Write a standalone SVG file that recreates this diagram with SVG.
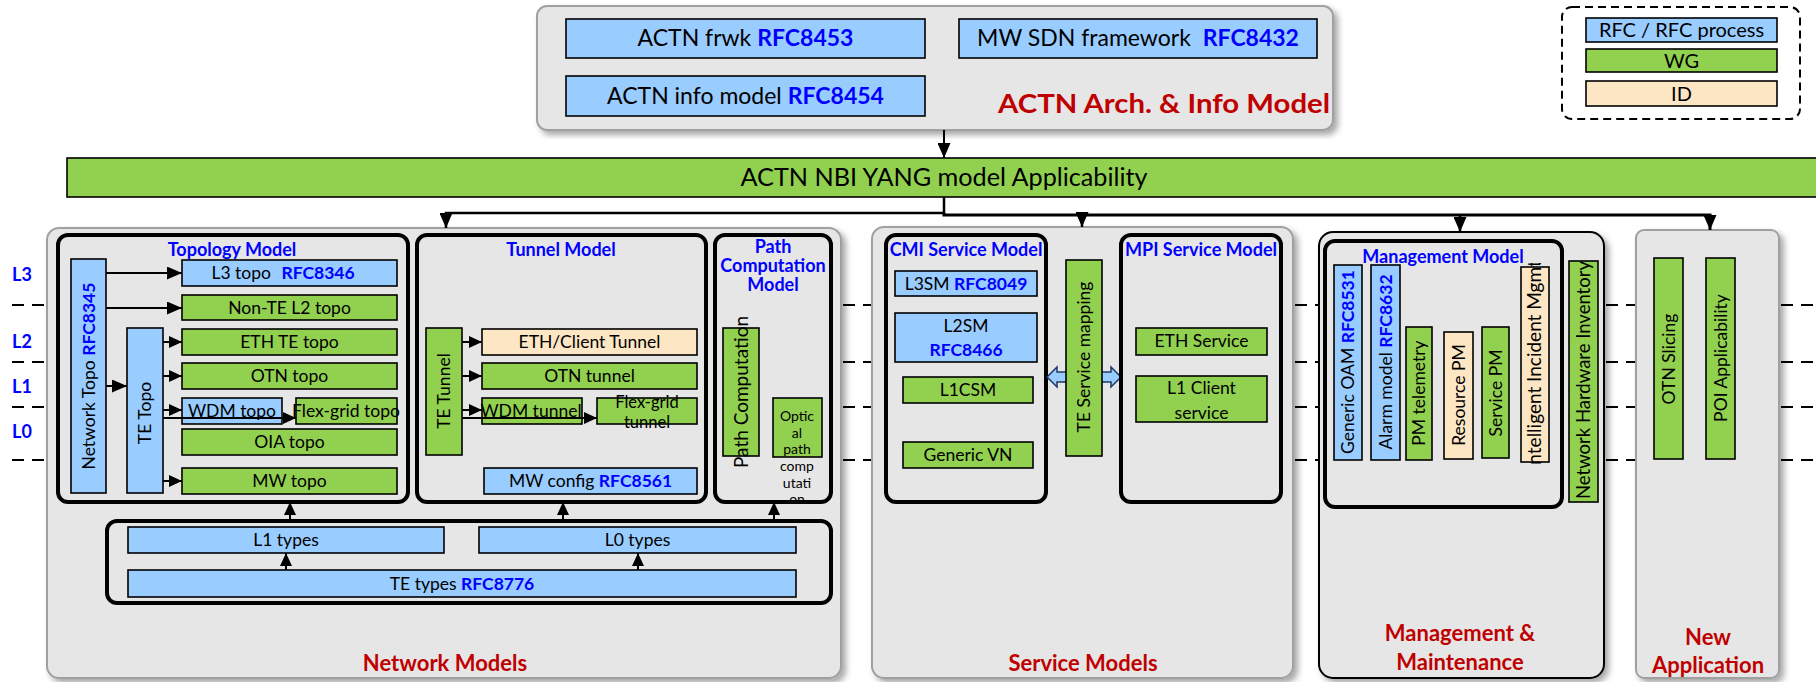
<svg xmlns="http://www.w3.org/2000/svg" width="1816" height="682" viewBox="0 0 1816 682">
<defs>
<filter id="sh" x="-5%" y="-5%" width="112%" height="112%">
<feDropShadow dx="4" dy="4" stdDeviation="3" flood-color="#000" flood-opacity="0.35"/>
</filter>
<marker id="ah" markerUnits="userSpaceOnUse" markerWidth="15" markerHeight="13" refX="15" refY="6.5" orient="auto">
<path d="M0,0 L15,6.5 L0,13 z" fill="#000"/>
</marker>
<marker id="as" markerUnits="userSpaceOnUse" markerWidth="13" markerHeight="12" refX="13" refY="6" orient="auto">
<path d="M0,0 L13,6 L0,12 z" fill="#000"/>
</marker>
<clipPath id="clipIIM"><rect x="1518" y="263" width="34" height="202"/></clipPath>
</defs>
<style>
text{font-family:Lato,"Liberation Sans",sans-serif;font-size:17.5px;fill:#000}
.gb{fill:#e6e6e6;stroke:#a0a0a0;stroke-width:2;filter:url(#sh)}
.ct{fill:none;stroke:#000;stroke-width:4}
.b{fill:#99ccff;stroke:#000;stroke-width:1.6}
.g{fill:#92d050;stroke:#000;stroke-width:1.6}
.i{fill:#fde6c3;stroke:#000;stroke-width:1.6}
.r{font-weight:bold;fill:#0000ff}
.h{font-weight:bold;fill:#0000ff;font-size:18px}
.red{font-weight:bold;fill:#c00000;font-size:22px}
.m{text-anchor:middle}
.ln{stroke:#000;stroke-width:2;fill:none}
.dl{stroke:#000;stroke-width:2;stroke-dasharray:12 8}
</style>

<!-- layer separators -->
<g id="layers">
<g class="dl">
<line x1="12" y1="305" x2="47" y2="305"/><line x1="12" y1="362" x2="47" y2="362"/><line x1="12" y1="407" x2="47" y2="407"/><line x1="12" y1="460" x2="47" y2="460"/>
<line x1="843" y1="305" x2="872" y2="305"/><line x1="843" y1="362" x2="872" y2="362"/><line x1="843" y1="407" x2="872" y2="407"/><line x1="843" y1="460" x2="872" y2="460"/>
<line x1="1295" y1="305" x2="1319" y2="305"/><line x1="1295" y1="362" x2="1319" y2="362"/><line x1="1295" y1="407" x2="1319" y2="407"/><line x1="1295" y1="460" x2="1319" y2="460"/>
<line x1="1606" y1="305" x2="1636" y2="305"/><line x1="1606" y1="362" x2="1636" y2="362"/><line x1="1606" y1="407" x2="1636" y2="407"/><line x1="1606" y1="460" x2="1636" y2="460"/>
<line x1="1781" y1="305" x2="1816" y2="305"/><line x1="1781" y1="362" x2="1816" y2="362"/><line x1="1781" y1="407" x2="1816" y2="407"/><line x1="1781" y1="460" x2="1816" y2="460"/>
</g>
<text class="h m" x="22" y="281">L3</text>
<text class="h m" x="22" y="348">L2</text>
<text class="h m" x="22" y="393">L1</text>
<text class="h m" x="22" y="438">L0</text>
</g>

<!-- top architecture box -->
<g id="arch">
<rect class="gb" x="537" y="6" width="796" height="124" rx="10"/>
<g id="actn-frwk"><rect class="b" x="566" y="19" width="359" height="39"/>
<text class="m" x="745.5" y="46" style="font-size:23px">ACTN frwk <tspan class="r">RFC8453</tspan></text></g>
<g id="actn-info"><rect class="b" x="566" y="76" width="359" height="40"/>
<text class="m" x="745.5" y="104" style="font-size:23px">ACTN info model <tspan class="r">RFC8454</tspan></text></g>
<g id="mw-sdn"><rect class="b" x="959" y="19" width="358" height="39"/>
<text class="m" x="1138" y="46" style="font-size:23px">MW SDN framework <tspan class="r" dx="6">RFC8432</tspan></text></g>
<text class="red" x="998" y="113" style="font-size:27px" textLength="332" lengthAdjust="spacingAndGlyphs">ACTN Arch. &amp; Info Model</text>
</g>

<!-- legend -->
<g id="legend">
<rect x="1562" y="7" width="238" height="112" rx="10" fill="#fff" stroke="#000" stroke-width="2" stroke-dasharray="8 5"/>
<rect class="b" x="1586" y="18" width="191" height="24"/>
<text class="m" x="1681.5" y="37" style="font-size:20px">RFC / RFC process</text>
<rect class="g" x="1586" y="49" width="191" height="23"/>
<text class="m" x="1681.5" y="68" style="font-size:20px">WG</text>
<rect class="i" x="1586" y="81" width="191" height="25"/>
<text class="m" x="1681.5" y="101" style="font-size:20px">ID</text>
</g>

<!-- NBI bar -->
<g id="nbi">
<rect x="67" y="158" width="1770" height="39" fill="#92d050" stroke="#000" stroke-width="1.6"/>
<text class="m" x="944" y="186" style="font-size:25px" textLength="407" lengthAdjust="spacingAndGlyphs">ACTN NBI YANG model Applicability</text>
</g>

<!-- Network Models -->
<g id="network-models">
<rect class="gb" x="47" y="228" width="794" height="450" rx="12"/>
<text class="red m" x="445" y="671">Network Models</text>
</g>
<g id="topology-model">
<rect class="ct" x="58" y="235" width="350" height="267" rx="10"/>
<text class="h m" x="232" y="256">Topology Model</text>
</g>
<g id="network-topo"><rect class="b" x="71" y="259" width="35" height="234"/>
<text class="m" x="88.5" y="382" transform="rotate(-90 88.5 376)">Network Topo <tspan class="r">RFC8345</tspan></text></g>
<g id="te-topo"><rect class="b" x="127" y="328" width="36" height="165"/>
<text class="m" x="145" y="419" transform="rotate(-90 145 413)">TE Topo</text></g>
<g id="l3-topo"><rect class="b" x="182" y="260" width="215" height="26"/>
<text class="m" x="283" y="279">L3 topo <tspan class="r" dx="6">RFC8346</tspan></text></g>
<g id="non-te-l2-topo"><rect class="g" x="182" y="295" width="215" height="25"/>
<text class="m" x="289.5" y="314">Non-TE L2 topo</text></g>
<g id="eth-te-topo"><rect class="g" x="182" y="329" width="215" height="26"/>
<text class="m" x="289.5" y="348">ETH TE topo</text></g>
<g id="otn-topo"><rect class="g" x="182" y="363" width="215" height="26"/>
<text class="m" x="289.5" y="382">OTN topo</text></g>
<g id="wdm-topo"><rect class="b" x="182" y="398" width="100" height="26"/>
<text class="m" x="232" y="417">WDM topo</text></g>
<g id="flexgrid-topo"><rect class="g" x="296" y="398" width="101" height="26"/>
<text class="m" x="346" y="417">Flex-grid topo</text></g>
<g id="oia-topo"><rect class="g" x="182" y="429" width="215" height="26"/>
<text class="m" x="289.5" y="448">OIA topo</text></g>
<g id="mw-topo"><rect class="g" x="182" y="468" width="215" height="26"/>
<text class="m" x="289.5" y="487">MW topo</text></g>

<g id="tunnel-model">
<rect class="ct" x="417" y="235" width="289" height="267" rx="10"/>
<text class="h m" x="561" y="256">Tunnel Model</text>
</g>
<g id="te-tunnel"><rect class="g" x="426" y="328" width="36" height="127"/>
<text class="m" x="444" y="397" transform="rotate(-90 444 391)">TE Tunnel</text></g>
<g id="eth-client-tunnel"><rect class="i" x="482" y="329" width="215" height="26"/>
<text class="m" x="589.5" y="348">ETH/Client Tunnel</text></g>
<g id="otn-tunnel"><rect class="g" x="482" y="363" width="215" height="26"/>
<text class="m" x="589.5" y="382">OTN tunnel</text></g>
<g id="wdm-tunnel"><rect class="g" x="482" y="398" width="100" height="26"/>
<text class="m" x="531" y="417">WDM tunnel</text></g>
<g id="flexgrid-tunnel"><rect class="g" x="597" y="398" width="100" height="26"/>
<text class="m" x="647" y="408" style="font-size:16.5px">Flex-grid</text><text class="m" x="647" y="428" style="font-size:16.5px">tunnel</text></g>
<g id="mw-config"><rect class="b" x="484" y="468" width="213" height="26"/>
<text class="m" x="590.5" y="487">MW config <tspan class="r">RFC8561</tspan></text></g>

<g id="path-computation-model">
<rect class="ct" x="715" y="235" width="116" height="267" rx="10"/>
<text class="h m" x="773" y="253">Path</text>
<text class="h m" x="773" y="272">Computation</text>
<text class="h m" x="773" y="291">Model</text>
</g>
<g id="path-computation"><rect class="g" x="723" y="328" width="36" height="128"/>
<text class="m" x="741" y="399" transform="rotate(-90 741 392)" style="font-size:19px">Path Computation</text></g>
<g id="optical-path-computation"><rect class="g" x="773" y="398" width="49" height="59"/>
<text class="m" x="797" y="421" style="font-size:14px">Optic</text>
<text class="m" x="797" y="438" style="font-size:14px">al</text>
<text class="m" x="797" y="454" style="font-size:14px">path</text>
<text class="m" x="797" y="471" style="font-size:14px">comp</text>
<text class="m" x="797" y="488" style="font-size:14px">utati</text>
<text class="m" x="797" y="504" style="font-size:14px">on</text></g>

<g id="te-types-group">
<rect class="ct" x="107" y="521" width="724" height="82" rx="10"/>
</g>
<g id="l1-types"><rect class="b" x="128" y="527" width="316" height="26"/>
<text class="m" x="286" y="546">L1 types</text></g>
<g id="l0-types"><rect class="b" x="479" y="527" width="317" height="26"/>
<text class="m" x="637.5" y="546">L0 types</text></g>
<g id="te-types"><rect class="b" x="128" y="570" width="668" height="27"/>
<text class="m" x="462" y="590">TE types <tspan class="r">RFC8776</tspan></text></g>

<!-- Service Models -->
<g id="service-models">
<rect class="gb" x="872" y="227" width="421" height="451" rx="12"/>
<text class="red m" x="1083" y="671">Service Models</text>
</g>
<g id="cmi-service-model">
<rect class="ct" x="886" y="235" width="160" height="267" rx="10"/>
<text class="h m" x="966" y="256">CMI Service Model</text>
</g>
<g id="l3sm"><rect class="b" x="895" y="271" width="142" height="25"/>
<text class="m" x="966" y="290">L3SM <tspan class="r">RFC8049</tspan></text></g>
<g id="l2sm"><rect class="b" x="895" y="313" width="142" height="49"/>
<text class="m" x="966" y="332">L2SM</text><text class="m r" x="966" y="356">RFC8466</text></g>
<g id="l1csm"><rect class="g" x="903" y="377" width="130" height="26"/>
<text class="m" x="968" y="396">L1CSM</text></g>
<g id="generic-vn"><rect class="g" x="903" y="442" width="130" height="26"/>
<text class="m" x="968" y="461">Generic VN</text></g>
<g id="mapping-arrow">
<path d="M1047,377 L1057,367 L1057,372 L1111,372 L1111,367 L1121,377 L1111,387 L1111,382 L1057,382 L1057,387 Z" fill="#99ccff" stroke="#1f3864" stroke-width="1.5"/>
</g>
<g id="te-service-mapping"><rect class="g" x="1066" y="260" width="36" height="196"/>
<text class="m" x="1084" y="363" transform="rotate(-90 1084 357)">TE Service mapping</text></g>
<g id="mpi-service-model">
<rect class="ct" x="1121" y="235" width="160" height="267" rx="10"/>
<text class="h m" x="1201" y="256">MPI Service Model</text>
</g>
<g id="eth-service"><rect class="g" x="1136" y="328" width="131" height="27"/>
<text class="m" x="1201.5" y="347">ETH Service</text></g>
<g id="l1-client-service"><rect class="g" x="1136" y="376" width="131" height="46"/>
<text class="m" x="1201.5" y="394">L1 Client</text><text class="m" x="1201.5" y="419">service</text></g>

<!-- Management & Maintenance -->
<g id="management-maintenance">
<rect x="1319" y="232" width="285" height="446" rx="14" fill="#e6e6e6" stroke="#000" stroke-width="2" filter="url(#sh)"/>
<text class="red m" x="1460" y="641">Management &amp;</text>
<text class="red m" x="1460" y="670">Maintenance</text>
</g>
<g id="management-model">
<rect class="ct" x="1325" y="241" width="237" height="266" rx="10"/>
<text class="h m" x="1443" y="263">Management Model</text>
</g>
<g id="generic-oam"><rect class="b" x="1334" y="265" width="28" height="195"/>
<text class="m" x="1348" y="368" transform="rotate(-90 1348 362)">Generic OAM <tspan class="r">RFC8531</tspan></text></g>
<g id="alarm-model"><rect class="b" x="1371" y="265" width="29" height="195"/>
<text class="m" x="1385.5" y="368" transform="rotate(-90 1385.5 362)">Alarm model <tspan class="r">RFC8632</tspan></text></g>
<g id="pm-telemetry"><rect class="g" x="1406" y="327" width="26" height="133"/>
<text class="m" x="1419" y="399" transform="rotate(-90 1419 393)">PM telemetry</text></g>
<g id="resource-pm"><rect class="i" x="1444" y="332" width="29" height="127"/>
<text class="m" x="1458.5" y="401" transform="rotate(-90 1458.5 395)">Resource PM</text></g>
<g id="service-pm"><rect class="g" x="1482" y="327" width="27" height="131"/>
<text class="m" x="1495.5" y="399" transform="rotate(-90 1495.5 393)">Service PM</text></g>
<g id="intelligent-incident-mgmt"><rect class="i" x="1521" y="267" width="28" height="195"/>
<g clip-path="url(#clipIIM)"><text class="m" x="1535" y="371" transform="rotate(-90 1535 365)" style="font-size:19px">Intelligent Incident Mgmt</text></g></g>
<g id="network-hardware-inventory"><rect class="g" x="1569" y="261" width="29" height="241"/>
<text class="m" x="1583.5" y="386" transform="rotate(-90 1583.5 380)" style="font-size:18.5px">Network Hardware Inventory</text></g>

<!-- New Application -->
<g id="new-application">
<rect class="gb" x="1636" y="230" width="143" height="448" rx="8"/>
<text class="red m" x="1708" y="645">New</text>
<text class="red m" x="1708" y="673">Application</text>
</g>
<g id="otn-slicing"><rect class="g" x="1654" y="258" width="29" height="201"/>
<text class="m" x="1668.5" y="365" transform="rotate(-90 1668.5 359)">OTN Slicing</text></g>
<g id="poi-applicability"><rect class="g" x="1706" y="258" width="29" height="201"/>
<text class="m" x="1720.5" y="364" transform="rotate(-90 1720.5 358)">POI Applicability</text></g>

<!-- connectors -->
<g id="connectors" class="ln">
<line x1="944" y1="130" x2="944" y2="158" marker-end="url(#ah)"/>
<polyline points="944,197 944,213 446,213 446,228" stroke-width="2.5" marker-end="url(#ah)"/>
<polyline points="944,213 944,215 1710,215 1710,230" stroke-width="3" marker-end="url(#ah)"/>
<line x1="1082" y1="215" x2="1082" y2="227" stroke-width="2.5" marker-end="url(#ah)"/>
<line x1="1460" y1="215" x2="1460" y2="232" stroke-width="2.5" marker-end="url(#ah)"/>
<line x1="106" y1="273" x2="182" y2="273" marker-end="url(#ah)"/>
<line x1="106" y1="308" x2="182" y2="308" marker-end="url(#ah)"/>
<line x1="106" y1="386" x2="127" y2="386" marker-end="url(#ah)"/>
<line x1="163" y1="342" x2="182" y2="342" marker-end="url(#as)"/>
<line x1="163" y1="376" x2="182" y2="376" marker-end="url(#as)"/>
<line x1="163" y1="410" x2="182" y2="410" marker-end="url(#as)"/>
<line x1="163" y1="418" x2="296" y2="418" marker-end="url(#as)"/>
<line x1="163" y1="481" x2="182" y2="481" marker-end="url(#as)"/>
<line x1="462" y1="342" x2="482" y2="342" marker-end="url(#as)"/>
<line x1="462" y1="376" x2="482" y2="376" marker-end="url(#as)"/>
<line x1="462" y1="410" x2="482" y2="410" marker-end="url(#as)"/>
<line x1="462" y1="418" x2="597" y2="418" marker-end="url(#as)"/>
<line x1="286" y1="570" x2="286" y2="553" marker-end="url(#as)"/>
<line x1="638" y1="570" x2="638" y2="553" marker-end="url(#as)"/>
<line x1="290" y1="521" x2="290" y2="502" marker-end="url(#as)"/>
<line x1="563" y1="521" x2="563" y2="502" marker-end="url(#as)"/>
<line x1="774" y1="521" x2="774" y2="502" marker-end="url(#as)"/>
</g>
</svg>
